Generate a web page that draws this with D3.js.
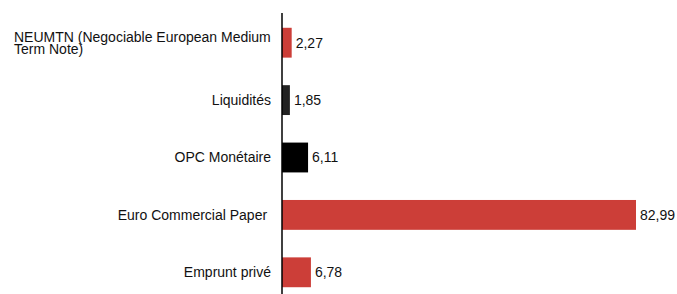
<!DOCTYPE html>
<html>
<head>
<meta charset="utf-8">
<script src="https://cdn.jsdelivr.net/npm/d3@7"></script>
<style>
  body { margin: 0; background: #fff; }
  svg { display: block; font-family: "Liberation Sans", Arial, sans-serif; }
</style>
</head>
<body>
<svg id="chart" width="677" height="294"></svg>
<script>
// data
const categories = ['NEUMTN (Negociable European Medium Term Note)', 'Liquidités', 'OPC Monétaire', 'Euro Commercial Paper ', 'Emprunt privé']
const values = [2.27, 1.85, 6.11, 82.99, 6.78]
const colors = ['#cc3e38', '#222222', '#000000', '#cc3e38', '#cc3e38']

const width = 677
const height = 294
const axisX = 282

const svg = d3.select('#chart')

const x = d3.scaleLinear()
  .domain([0, 82.99])
  .range([axisX, 636])

const y = d3.scaleBand()
  .domain(categories)
  .range([14, 301])
  .paddingInner(0.48)
  .paddingOuter(0.24)

const rows = categories.map((c, i) => ({ cat: c, value: values[i], color: colors[i] }))

// bars
svg.append('g')
  .selectAll('rect')
  .data(rows)
  .enter().append('rect')
  .attr('x', x(0))
  .attr('y', d => y(d.cat))
  .attr('width', d => x(d.value) - x(0))
  .attr('height', y.bandwidth())
  .attr('fill', d => d.color)

// value labels
svg.append('g')
  .selectAll('text')
  .data(rows)
  .enter().append('text')
  .attr('x', d => x(d.value) + 4)
  .attr('y', d => y(d.cat) + y.bandwidth() / 2)
  .attr('dy', '0.35em')
  .attr('font-size', '14px')
  .attr('fill', '#111')
  .text(d => d3.format('.2f')(d.value).replace('.', ','))

// category labels (the long one wraps and is left aligned)
const labels = svg.append('g')
rows.forEach(d => {
  const cy = y(d.cat) + y.bandwidth() / 2
  if (d.cat.length > 30) {
    const lines = ['NEUMTN (Negociable European Medium', 'Term Note)']
    lines.forEach((ln, i) => {
      labels.append('text')
        .attr('x', 14)
        .attr('y', cy - 1 + i * 12)
        .attr('font-size', '14px')
        .attr('fill', '#111')
        .text(ln)
    })
  } else {
    labels.append('text')
      .attr('x', 271)
      .attr('y', cy)
      .attr('dy', '0.35em')
      .attr('text-anchor', 'end')
      .attr('font-size', '14px')
      .attr('fill', '#111')
      .style('white-space', 'pre')
      .text(d.cat)
  }
})

// vertical axis line
svg.append('line')
  .attr('x1', axisX).attr('x2', axisX)
  .attr('y1', 13).attr('y2', height)
  .attr('stroke', '#000')
  .attr('stroke-width', 1.5)
</script>
</body>
</html>
